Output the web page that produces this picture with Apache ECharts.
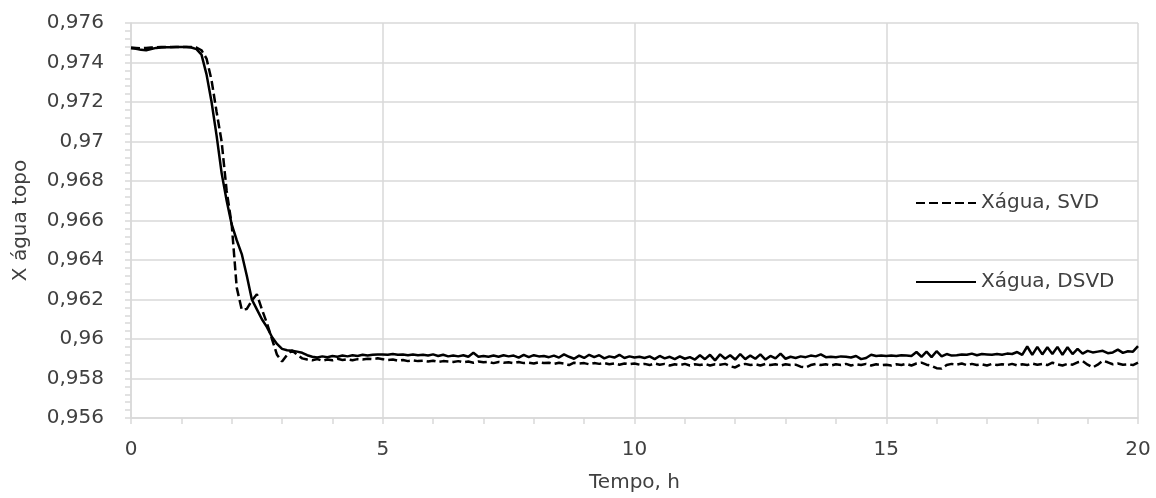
<!DOCTYPE html>
<html>
<head>
<meta charset="utf-8">
<title>Xágua topo</title>
<script src="https://cdn.jsdelivr.net/npm/echarts@6/dist/echarts.min.js"></script>
<style>
  html, body { margin: 0; padding: 0; background: #ffffff; }
  #chart { width: 1156px; height: 498px; }
</style>
</head>
<body>
<div id="chart"></div>
<script>
// Time samples (h)
const hours = [
  0.0, 0.1, 0.2, 0.3, 0.4, 0.5, 0.6, 0.7, 0.8, 0.9,
  1.0, 1.1, 1.2, 1.3, 1.4, 1.5, 1.6, 1.7, 1.8, 1.9,
  2.0, 2.1, 2.2, 2.3, 2.4, 2.5, 2.6, 2.7, 2.8, 2.9,
  3.0, 3.1, 3.2, 3.3, 3.4, 3.5, 3.6, 3.7, 3.8, 3.9,
  4.0, 4.1, 4.2, 4.3, 4.4, 4.5, 4.6, 4.7, 4.8, 4.9,
  5.0, 5.1, 5.2, 5.3, 5.4, 5.5, 5.6, 5.7, 5.8, 5.9,
  6.0, 6.1, 6.2, 6.3, 6.4, 6.5, 6.6, 6.7, 6.8, 6.9,
  7.0, 7.1, 7.2, 7.3, 7.4, 7.5, 7.6, 7.7, 7.8, 7.9,
  8.0, 8.1, 8.2, 8.3, 8.4, 8.5, 8.6, 8.7, 8.8, 8.9,
  9.0, 9.1, 9.2, 9.3, 9.4, 9.5, 9.6, 9.7, 9.8, 9.9,
  10.0, 10.1, 10.2, 10.3, 10.4, 10.5, 10.6, 10.7, 10.8, 10.9,
  11.0, 11.1, 11.2, 11.3, 11.4, 11.5, 11.6, 11.7, 11.8, 11.9,
  12.0, 12.1, 12.2, 12.3, 12.4, 12.5, 12.6, 12.7, 12.8, 12.9,
  13.0, 13.1, 13.2, 13.3, 13.4, 13.5, 13.6, 13.7, 13.8, 13.9,
  14.0, 14.1, 14.2, 14.3, 14.4, 14.5, 14.6, 14.7, 14.8, 14.9,
  15.0, 15.1, 15.2, 15.3, 15.4, 15.5, 15.6, 15.7, 15.8, 15.9,
  16.0, 16.1, 16.2, 16.3, 16.4, 16.5, 16.6, 16.7, 16.8, 16.9,
  17.0, 17.1, 17.2, 17.3, 17.4, 17.5, 17.6, 17.7, 17.8, 17.9,
  18.0, 18.1, 18.2, 18.3, 18.4, 18.5, 18.6, 18.7, 18.8, 18.9,
  19.0, 19.1, 19.2, 19.3, 19.4, 19.5, 19.6, 19.7, 19.8, 19.9,
  20.0
];

// Xágua at the column top, SVD control
const xaguaSVD = [
  0.97476, 0.97474, 0.97472, 0.97474, 0.97476, 0.97477, 0.97478, 0.97478, 0.97478, 0.97478,
  0.97478, 0.97478, 0.97478, 0.97476, 0.97462, 0.97420, 0.97310, 0.97150, 0.97000, 0.96750,
  0.96580, 0.96260, 0.96148, 0.96152, 0.96195, 0.96227, 0.96150, 0.96080, 0.96000, 0.95920,
  0.95886, 0.95920, 0.95942, 0.95920, 0.95902, 0.95896, 0.95892, 0.95898, 0.95890, 0.95896,
  0.95892, 0.95900, 0.95894, 0.95898, 0.95892, 0.95898, 0.95896, 0.95900, 0.95898, 0.95902,
  0.95898, 0.95894, 0.95896, 0.95890, 0.95894, 0.95888, 0.95892, 0.95888, 0.95890, 0.95886,
  0.95890, 0.95884, 0.95888, 0.95886, 0.95884, 0.95888, 0.95882, 0.95886, 0.95880, 0.95886,
  0.95882, 0.95884, 0.95878, 0.95884, 0.95880, 0.95882, 0.95878, 0.95884, 0.95878, 0.95880,
  0.95876, 0.95882, 0.95878, 0.95880, 0.95874, 0.95880, 0.95876, 0.95868, 0.95880, 0.95876,
  0.95878, 0.95872, 0.95878, 0.95874, 0.95878, 0.95872, 0.95876, 0.95870, 0.95876, 0.95872,
  0.95876, 0.95870, 0.95874, 0.95868, 0.95876, 0.95870, 0.95874, 0.95866, 0.95872, 0.95868,
  0.95874, 0.95866, 0.95872, 0.95868, 0.95874, 0.95866, 0.95872, 0.95870, 0.95874, 0.95862,
  0.95856, 0.95870, 0.95874, 0.95868, 0.95872, 0.95866, 0.95874, 0.95868, 0.95872, 0.95866,
  0.95872, 0.95868, 0.95870, 0.95860, 0.95856, 0.95868, 0.95874, 0.95868, 0.95872, 0.95866,
  0.95872, 0.95868, 0.95874, 0.95866, 0.95872, 0.95868, 0.95874, 0.95866, 0.95872, 0.95868,
  0.95870, 0.95866, 0.95872, 0.95868, 0.95874, 0.95866, 0.95876, 0.95880, 0.95870, 0.95864,
  0.95852, 0.95850, 0.95868, 0.95874, 0.95870, 0.95876, 0.95868, 0.95874, 0.95868, 0.95872,
  0.95866, 0.95874, 0.95868, 0.95872, 0.95868, 0.95874, 0.95866, 0.95872, 0.95868, 0.95876,
  0.95870, 0.95874, 0.95868, 0.95880, 0.95872, 0.95866, 0.95874, 0.95870, 0.95882, 0.95888,
  0.95870, 0.95856, 0.95870, 0.95890, 0.95882, 0.95872, 0.95876, 0.95870, 0.95872, 0.95868,
  0.95880
];

// Xágua at the column top, DSVD control
const xaguaDSVD = [
  0.97472, 0.97470, 0.97464, 0.97462, 0.97468, 0.97474, 0.97476, 0.97477, 0.97477, 0.97478,
  0.97478, 0.97478, 0.97476, 0.97468, 0.97440, 0.97340, 0.97200, 0.97030, 0.96840, 0.96700,
  0.96580, 0.96500, 0.96430, 0.96320, 0.96200, 0.96150, 0.96100, 0.96060, 0.96010, 0.95975,
  0.95950, 0.95943, 0.95940, 0.95936, 0.95930, 0.95918, 0.95910, 0.95906, 0.95912, 0.95908,
  0.95914, 0.95910, 0.95916, 0.95912, 0.95918, 0.95914, 0.95920, 0.95916, 0.95920, 0.95922,
  0.95922, 0.95920, 0.95924, 0.95920, 0.95922, 0.95918, 0.95922, 0.95918, 0.95920, 0.95916,
  0.95922, 0.95914, 0.95920, 0.95912, 0.95916, 0.95912, 0.95918, 0.95910, 0.95930, 0.95910,
  0.95914, 0.95910, 0.95916, 0.95910, 0.95918, 0.95912, 0.95916, 0.95906, 0.95920, 0.95908,
  0.95918, 0.95912, 0.95914, 0.95908, 0.95916, 0.95906, 0.95922, 0.95910, 0.95900, 0.95916,
  0.95904, 0.95920, 0.95908, 0.95918, 0.95902, 0.95912, 0.95906, 0.95920, 0.95904, 0.95912,
  0.95906, 0.95910, 0.95904, 0.95912, 0.95898, 0.95914, 0.95902, 0.95910, 0.95898, 0.95912,
  0.95900, 0.95908, 0.95896, 0.95918, 0.95898, 0.95920, 0.95892, 0.95922, 0.95900, 0.95918,
  0.95896, 0.95924, 0.95898, 0.95916, 0.95900, 0.95922, 0.95896, 0.95914, 0.95902, 0.95926,
  0.95900, 0.95910, 0.95904, 0.95912, 0.95908, 0.95916, 0.95912, 0.95922, 0.95908, 0.95910,
  0.95908, 0.95912, 0.95910, 0.95906, 0.95914, 0.95898, 0.95904, 0.95920, 0.95914, 0.95916,
  0.95914, 0.95916, 0.95914, 0.95918, 0.95916, 0.95914, 0.95934, 0.95910, 0.95936, 0.95908,
  0.95938, 0.95912, 0.95924, 0.95916, 0.95918, 0.95922, 0.95920, 0.95926, 0.95918, 0.95924,
  0.95922, 0.95920, 0.95924, 0.95920, 0.95926, 0.95924, 0.95934, 0.95920, 0.95962, 0.95920,
  0.95960, 0.95922, 0.95958, 0.95924, 0.95960, 0.95920, 0.95958, 0.95924, 0.95950, 0.95926,
  0.95940, 0.95932, 0.95936, 0.95940, 0.95928, 0.95932, 0.95946, 0.95930, 0.95938, 0.95936,
  0.95964
];

const seriesNames = ['Xágua, SVD', 'Xágua, DSVD'];
const xAxisName = 'Tempo, h';
const yAxisName = 'X água topo';

const FONT = 'DejaVu Sans';
const TEXT = '#404040';
const GRID = '#d9d9d9';

function pairs(values) {
  return hours.map((h, i) => [h, values[i]]);
}

// Decimal comma, trailing zeros dropped (0,97 / 0,96)
function fmtY(v) {
  return String(parseFloat(v.toFixed(3))).replace('.', ',');
}

// Legend entry: line sample only, no marker
function legendBlock(name, top) {
  return {
    data: [name],
    left: 915, top: top,
    padding: 0,
    itemWidth: 60, itemHeight: 14, itemGap: 6,
    itemStyle: { opacity: 0 },
    textStyle: { fontFamily: FONT, fontSize: 20, color: TEXT },
    selectedMode: false
  };
}

const chart = echarts.init(document.getElementById('chart'), null, { renderer: 'canvas' });

chart.setOption({
  animation: false,
  backgroundColor: '#ffffff',
  grid: { left: 131, right: 18, top: 23, bottom: 77, containLabel: false },
  legend: [
    legendBlock(seriesNames[0], 193),
    legendBlock(seriesNames[1], 272)
  ],
  xAxis: {
    type: 'value',
    min: 0, max: 20, interval: 5,
    name: xAxisName,
    nameLocation: 'middle',
    nameGap: 55,
    nameTextStyle: { fontFamily: FONT, fontSize: 20, color: TEXT },
    axisLine: { show: true, lineStyle: { color: GRID, width: 1.5 } },
    axisTick: { show: true, length: 6, lineStyle: { color: GRID, width: 1.5 } },
    minorTick: { show: true, splitNumber: 5, length: 6, lineStyle: { color: GRID, width: 1.5 } },
    axisLabel: { fontFamily: FONT, fontSize: 20, color: TEXT, margin: 22 },
    splitLine: { show: true, lineStyle: { color: GRID, width: 1.5 } }
  },
  yAxis: {
    type: 'value',
    min: 0.956, max: 0.976, interval: 0.002,
    name: yAxisName,
    nameLocation: 'middle',
    nameRotate: 90,
    nameGap: 100,
    nameTextStyle: { fontFamily: FONT, fontSize: 20, color: TEXT },
    axisLine: { show: true, lineStyle: { color: GRID, width: 1.5 } },
    axisTick: { show: true, length: 6, lineStyle: { color: GRID, width: 1.5 } },
    minorTick: { show: true, splitNumber: 5, length: 6, lineStyle: { color: GRID, width: 1.5 } },
    axisLabel: { fontFamily: FONT, fontSize: 20, color: TEXT, margin: 27, formatter: fmtY },
    splitLine: { show: true, lineStyle: { color: GRID, width: 1.5 } }
  },
  series: [
    {
      name: seriesNames[0],
      type: 'line',
      data: pairs(xaguaSVD),
      showSymbol: false,
      symbol: 'none',
      color: '#000000',
      lineStyle: { color: '#000000', width: 2.5, type: [9, 4] },
      z: 3
    },
    {
      name: seriesNames[1],
      type: 'line',
      data: pairs(xaguaDSVD),
      showSymbol: false,
      symbol: 'none',
      color: '#000000',
      lineStyle: { color: '#000000', width: 2.5, type: 'solid' },
      z: 4
    }
  ]
});
</script>
</body>
</html>
